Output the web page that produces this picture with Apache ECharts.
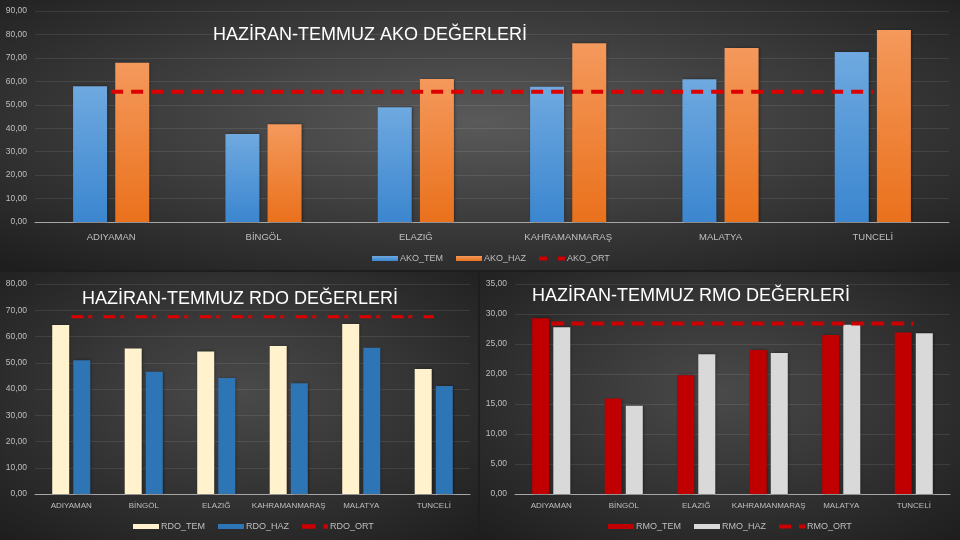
<!DOCTYPE html>
<html><head><meta charset="utf-8">
<script src="https://cdn.jsdelivr.net/npm/echarts@6/dist/echarts.min.js"></script>
<style>html,body{margin:0;padding:0;background:#222}#c{width:960px;height:540px}</style>
</head><body><div id="c"></div>
<script>
// ---- data ----
const categories = ['ADIYAMAN', 'BİNGÖL', 'ELAZIĞ', 'KAHRAMANMARAŞ', 'MALATYA', 'TUNCELİ'];

const akoTem = [57.9, 37.5, 48.9, 57.7, 60.9, 72.5];
const akoHaz = [67.9, 41.7, 61.0, 76.2, 74.2, 81.9];
const akoOrt = [55.6, 55.6, 55.6, 55.6, 55.6, 55.6];

const rdoTem = [64.4, 55.4, 54.3, 56.4, 64.8, 47.6];
const rdoHaz = [51.0, 46.6, 44.2, 42.2, 55.7, 41.1];
const rdoOrt = [67.5, 67.5, 67.5, 67.5, 67.5, 67.5];

const rmoTem = [29.3, 15.9, 19.8, 24.0, 26.5, 26.9];
const rmoHaz = [27.8, 14.7, 23.3, 23.5, 28.2, 26.8];
const rmoOrt = [28.4, 28.4, 28.4, 28.4, 28.4, 28.4];

const akoTicks = [0, 10, 20, 30, 40, 50, 60, 70, 80, 90];
const rdoTicks = [0, 10, 20, 30, 40, 50, 60, 70, 80];
const rmoTicks = [0, 5, 10, 15, 20, 25, 30, 35];

const titles = ['HAZİRAN-TEMMUZ AKO DEĞERLERİ', 'HAZİRAN-TEMMUZ RDO DEĞERLERİ', 'HAZİRAN-TEMMUZ RMO DEĞERLERİ'];
const seriesNames = [['AKO_TEM', 'AKO_HAZ', 'AKO_ORT'], ['RDO_TEM', 'RDO_HAZ', 'RDO_ORT'], ['RMO_TEM', 'RMO_HAZ', 'RMO_ORT']];

// ---- chart ----
const FONT = '"Liberation Sans", Arial, sans-serif';
const LABEL = '#bfbfbf';
const fmt = v => v.toFixed(2).replace('.', ',');

function yAxis(gi, ticks) {
  return {
    type: 'value', gridIndex: gi,
    min: ticks[0], max: ticks[ticks.length - 1], interval: ticks[1] - ticks[0],
    axisLine: { show: false }, axisTick: { show: false },
    splitLine: { lineStyle: { color: 'rgba(255,255,255,0.09)', width: 1 } },
    axisLabel: { color: LABEL, fontSize: 8.5, fontFamily: FONT, margin: 8, formatter: fmt }
  };
}
function xAxis(gi, fs, margin) {
  return {
    type: 'category', gridIndex: gi, data: categories,
    axisLine: { lineStyle: { color: '#a6a6a6', width: 1 } },
    axisTick: { show: false },
    axisLabel: { color: LABEL, fontSize: fs, fontFamily: FONT, margin: margin, interval: 0 }
  };
}
function vgrad(top, bottom) {
  return { type: 'linear', x: 0, y: 0, x2: 0, y2: 1, colorStops: [{ offset: 0, color: top }, { offset: 1, color: bottom }] };
}
const shadow = { shadowBlur: 3, shadowColor: 'rgba(0,0,0,0.45)', shadowOffsetX: 1, shadowOffsetY: 0 };

function bar(name, gi, data, color, width) {
  return {
    name, type: 'bar', xAxisIndex: gi, yAxisIndex: gi, data,
    barWidth: width, barGap: '24%',
    itemStyle: Object.assign({ color }, shadow)
  };
}
function line(name, gi, data, color, w, dash) {
  return {
    name, type: 'line', xAxisIndex: gi, yAxisIndex: gi, data,
    symbol: 'none', z: 5,
    itemStyle: { color },
    lineStyle: { color, width: w, type: dash }
  };
}
function legend(names, left, top, lineIcon) {
  return {
    left, top, padding: 0, itemGap: 13, itemWidth: 26, itemHeight: 5,
    textStyle: { color: LABEL, fontSize: 9, fontFamily: FONT, padding: [0, 0, 0, -3] },
    data: [
      { name: names[0], icon: 'rect' },
      { name: names[1], icon: 'rect' },
      { name: names[2], icon: lineIcon, itemStyle: { color: '#cc0000' } }
    ]
  };
}
function panel(x, y, w, h, c0, c1) {
  return {
    type: 'rect', z: -100, x, y, scaleX: w / h, scaleY: 1, silent: true,
    shape: { x: 0, y: 0, width: h, height: h },
    style: { fill: { type: 'radial', x: 0.5, y: 0.45, r: 0.75, colorStops: [{ offset: 0, color: c0 }, { offset: 1, color: c1 }] } }
  };
}

const TITLE_STYLE = { color: '#fff', fontSize: 18, fontWeight: 'normal', fontFamily: FONT };

const chart = echarts.init(document.getElementById('c'), null, { renderer: 'canvas' });
chart.setOption({
  backgroundColor: '#1e1e1e',
  animation: false,
  graphic: { elements: [
    panel(0, 0, 960, 270, '#5a5a5a', '#1c1c1c'),
    panel(0, 272, 478, 268, '#4a4a4a', '#1d1d1d'),
    panel(480, 272, 480, 268, '#4a4a4a', '#1d1d1d')
  ] },
  title: [
    { text: titles[0], left: 213, top: 26, padding: 0, textStyle: TITLE_STYLE },
    { text: titles[1], left: 82, top: 290, padding: 0, textStyle: TITLE_STYLE },
    { text: titles[2], left: 532, top: 287, padding: 0, textStyle: TITLE_STYLE }
  ],
  legend: [
    legend(seriesNames[0], 372, 254, 'path://M0,0H8V4H0Z M19,0H26V4H19Z'),
    legend(seriesNames[1], 133, 522, 'path://M0,0H12V4H0Z M19,0H23V4H19Z'),
    legend(seriesNames[2], 608, 522, 'path://M0,0H12V4H0Z M20,0H26V4H20Z')
  ],
  grid: [
    { left: 35, right: 11, top: 11, bottom: 318 },
    { left: 35, right: 490, top: 284, bottom: 46 },
    { left: 515, right: 10, top: 284, bottom: 46 }
  ],
  xAxis: [xAxis(0, 9.5, 10), xAxis(1, 8, 8), xAxis(2, 8, 8)],
  yAxis: [yAxis(0, akoTicks), yAxis(1, rdoTicks), yAxis(2, rmoTicks)],
  series: [
    bar(seriesNames[0][0], 0, akoTem, vgrad('#6fa9e0', '#3b86cf'), 34),
    bar(seriesNames[0][1], 0, akoHaz, vgrad('#f4995c', '#ea711c'), 34),
    line(seriesNames[0][2], 0, akoOrt, '#dd0000', 4, [12, 8]),
    bar(seriesNames[1][0], 1, rdoTem, '#fff2cc', 17),
    bar(seriesNames[1][1], 1, rdoHaz, '#2e75b6', 17),
    line(seriesNames[1][2], 1, rdoOrt, '#dd0000', 3, [12, 5, 4, 11]),
    bar(seriesNames[2][0], 2, rmoTem, '#c00000', 17),
    bar(seriesNames[2][1], 2, rmoHaz, '#d9d9d9', 17),
    line(seriesNames[2][2], 2, rmoOrt, '#cc0000', 4, [13, 7])
  ]
});
</script></body></html>
